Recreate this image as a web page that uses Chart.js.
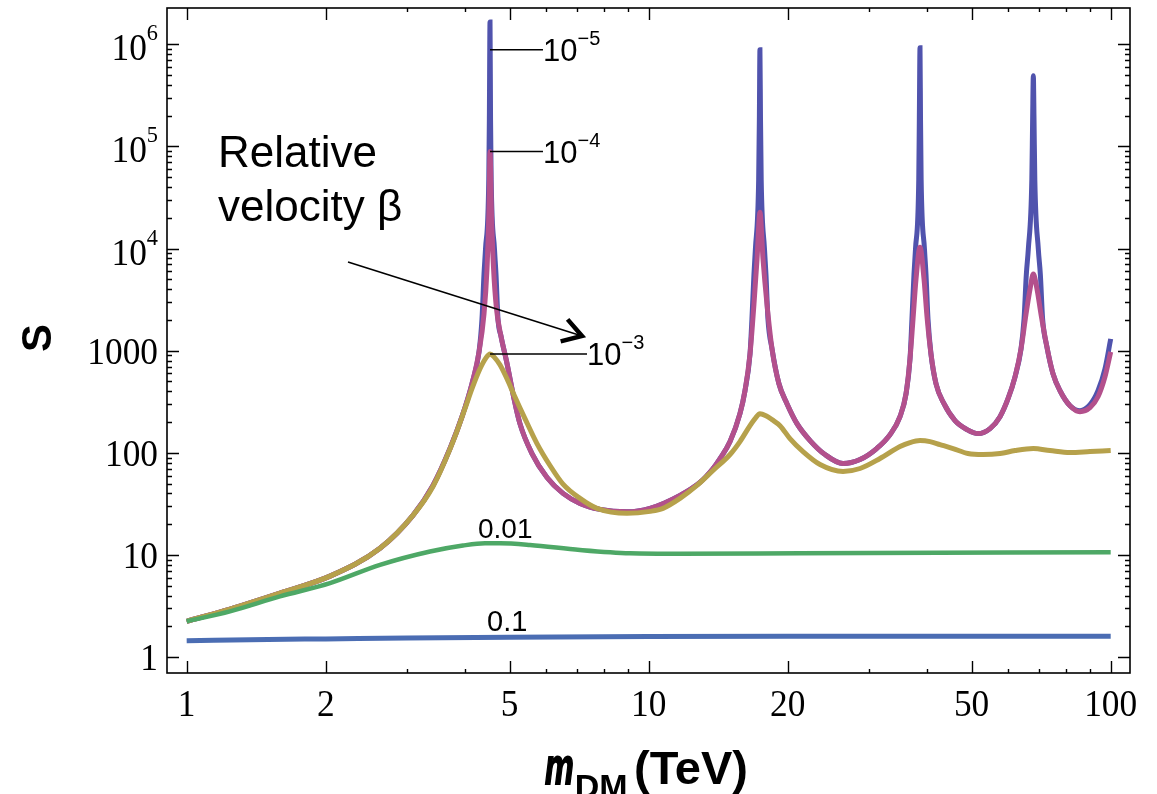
<!DOCTYPE html>
<html lang="en">
<head>
  <meta charset="UTF-8" />
  <title>Sommerfeld enhancement S vs m_DM</title>
  <script src="https://cdn.jsdelivr.net/npm/chart.js"></script>
  <style>
    html, body {
      margin: 0;
      padding: 0;
      background: #fff;
    }
    canvas {
      display: block;
    }
  </style>
</head>
<body>
  <canvas id="sommerfeld" width="1157" height="794"></canvas>

  <script>
// Values (m_DM in TeV, S dimensionless)

// beta = 0.1
const massB01 = [1, 1.5, 2, 3, 5, 10, 20, 50, 100];
const sB01    = [1.45, 1.49, 1.51, 1.54, 1.57, 1.59, 1.6, 1.6, 1.6];

// beta = 0.01
const massB001 = [1, 1.241, 1.592, 2.043, 2.621, 3.363, 3.963, 4.423, 4.765, 5.534, 7.101, 9.11, 11.69, 21.26, 100];
const sB001    = [2.245, 2.81, 3.937, 5.307, 8.005, 10.82, 12.38, 13.03, 13.03, 12.55, 11.21, 10.41, 10.3, 10.41, 10.65];

// beta = 1e-3
const massB1e3 = [1, 1.241, 1.592, 2.043, 2.621, 3.089, 3.413, 3.771, 4.003, 4.145,
                  4.314, 4.445, 4.535, 4.626, 4.765, 4.935, 5.11, 5.398, 5.731, 6.115,
                  6.525, 7.101, 7.729, 8.975, 10.07, 10.74, 11.69, 12.72, 13.78, 15.0,
                  15.76, 16.57, 16.99, 17.41, 17.94, 18.49, 19.24, 20.22, 21.58, 23.49,
                  26.34, 28.67, 31.67, 34.99, 36.78, 38.66, 40.64, 42.71, 45.58, 49.11,
                  52.92, 57.6, 62.08, 68.01, 73.89, 81.65, 90.2, 100];
const sB1e3    = [2.245, 2.96, 4.24, 6.21, 11.65, 24.45, 46.9, 128.9, 270.5, 424.0,
                  664.4, 850.7, 930.4, 869.9, 727.0, 530.8, 370.6, 216.1, 123.2, 75.2,
                  49.4, 35.83, 28.61, 25.56, 26.75, 28.61, 35.83, 47.97, 67.2, 96.25,
                  128.9, 184.6, 216.1, 241.7, 231.1, 211.3, 184.6, 137.9, 102.9, 76.88,
                  65.7, 70.27, 88.01, 115.2, 126.0, 131.8, 128.9, 120.5, 110.2, 98.44,
                  96.25, 98.44, 105.3, 110.2, 105.3, 100.7, 102.9, 105.3];

// beta = 1e-4
const massB1e4 = [1, 1.241, 1.592, 2.043, 2.621, 3.089, 3.413, 3.715, 3.944, 4.145, 4.293, 4.401, 4.467, 4.512, 4.535,
                  4.568, 4.614, 4.684, 4.789, 4.927, 5.085, 5.264, 5.59, 6.025, 6.525, 7.101, 7.845, 8.975, 10.07, 11.69,
                  12.91, 13.78, 14.27, 15.0, 15.76, 16.16, 16.57, 16.9, 17.16, 17.41, 17.68, 18.03, 18.49, 19.14, 19.92,
                  20.94, 22.35, 24.07, 26.34, 28.67, 31.15, 33.3, 34.99, 36.06, 36.78, 37.34, 37.9, 38.66, 39.44, 40.04,
                  40.83, 41.87, 43.57, 46.03, 48.87, 51.62, 54.81, 57.6, 59.95, 62.08, 63.96, 65.58, 66.9, 68.01, 69.26,
                  70.65, 72.7, 75.01, 77.68, 81.65, 85.82, 90.2, 93.86, 97.19, 100];
const sB1e4    = [2.245, 2.96, 4.24, 6.21, 11.65, 24.45, 47.97, 110.2, 226.0, 474.5, 973.4, 2286, 6281, 24180, 88990,
                  21610, 6570, 2557, 1394, 777.8, 378.9, 193.1, 98.44, 57.41, 40.08, 32.02, 27.98, 26.45, 28.61, 38.32,
                  51.31, 70.27, 88.01, 128.9, 241.7, 405.4, 930.4, 2861, 7865, 22600, 7865, 2861, 1041, 474.5, 302.7,
                  193.1, 131.8, 96.25, 78.63, 86.03, 110.2, 150.8, 226.0, 378.9, 831.8, 2043, 5018, 10300, 5018, 2136,
                  930.4, 474.5, 302.7, 206.6, 168.8, 154.3, 172.6, 226.0, 338.8, 555.3, 1041, 2286, 4009, 5615, 4009,
                  2286, 1114, 593.9, 405.4, 289.3, 252.8, 276.7, 354.3, 555.3, 973.4];

// beta = 1e-5
const massB1e5 = [1, 1.241, 1.592, 2.043, 2.621, 3.089, 3.413, 3.715, 3.944, 4.145,
                  4.293, 4.357, 4.401, 4.434, 4.507, 4.52, 4.535, 4.547, 4.561, 4.637,
                  4.672, 4.719, 4.789, 4.927, 5.085, 5.264, 5.59, 6.025, 6.525, 7.101,
                  7.845, 8.975, 10.07, 11.69, 12.91, 13.78, 14.27, 15.0, 15.76, 16.16,
                  16.57, 16.73, 16.9, 17.02, 17.3, 17.36, 17.41, 17.46, 17.52, 17.81,
                  17.94, 18.12, 18.49, 19.14, 19.92, 20.94, 22.35, 24.07, 26.34, 28.67,
                  31.15, 33.3, 34.99, 36.06, 36.78, 37.14, 37.52, 37.8, 38.42, 38.53,
                  38.66, 38.76, 38.88, 39.53, 39.83, 40.23, 40.83, 41.87, 43.57, 46.03,
                  48.87, 51.62, 54.81, 57.6, 59.95, 62.08, 63.96, 64.93, 65.68, 66.33,
                  67.5, 67.77, 68.01, 68.24, 68.51, 69.72, 70.42, 71.23, 72.7, 75.01,
                  77.68, 81.65, 85.82, 90.2, 93.86, 97.19, 100];
const sB1e5    = [2.245, 2.96, 4.24, 6.21, 11.65, 24.45, 47.97, 110.2, 226.0, 474.5,
                  973.4, 2043, 5615, 9844, 47450, 182600, 1.651e6, 182600, 47450, 9844,
                  5615, 2043, 1394, 777.8, 378.9, 193.1, 98.44, 57.41, 40.08, 32.02,
                  27.98, 26.45, 28.61, 38.32, 51.31, 70.27, 88.01, 128.9, 241.7, 405.4,
                  930.4, 2043, 5615, 9844, 47450, 182600, 879900, 182600, 47450, 9844,
                  5615, 2043, 1041, 474.5, 302.7, 193.1, 131.8, 96.25, 78.63, 86.03,
                  110.2, 150.8, 226.0, 378.9, 831.8, 2043, 5615, 9844, 47450, 182600,
                  920300, 182600, 47450, 9844, 5615, 2043, 930.4, 474.5, 302.7, 206.6,
                  168.8, 154.3, 172.6, 226.0, 338.8, 555.3, 1041, 2043, 5615, 9844,
                  47450, 182600, 490700, 182600, 47450, 9844, 5615, 2043, 1114, 593.9,
                  405.4, 289.3, 258.6, 296, 405.4, 664.4, 1304];

// Axis ticks
const xMajorTicks = [1, 2, 5, 10, 20, 50, 100];
const xTickLabels = ['1', '2', '5', '10', '20', '50', '100'];
const xMinorTicks = [3, 4, 6, 7, 8, 9, 30, 40, 60, 70, 80, 90];
const yMajorTicks = [1, 10, 100, 1000, 1e4, 1e5, 1e6];
const yTickLabels = ['1', '10', '100', '1000', '10^4', '10^5', '10^6'];

// Curve labels: [text, mass at peak, S at leader, mass where the label starts]
const curveLabels = [
  ['10^\u22125', 4.535, 8.8e5, 5.905],
  ['10^\u22124', 4.535, 8.9e4, 5.905],
  ['10^\u22123', 4.535, 930, 7.354]
];

function toPoints(xs, ys) {
  return xs.map((m, i) => ({ x: m, y: ys[i] }));
}

// draw text with a horizontal squeeze, like the original figure
function putText(ctx, txt, x, y, font, align, sx, thicken) {
  ctx.save();
  ctx.font = font;
  ctx.textAlign = 'left';
  ctx.textBaseline = 'alphabetic';
  const w = ctx.measureText(txt).width * sx;
  const left = align === 'center' ? x - w / 2 : align === 'right' ? x - w : x;
  ctx.translate(left, y);
  ctx.scale(sx, 1);
  ctx.fillText(txt, 0, 0);
  if (thicken) {
    ctx.lineWidth = thicken;
    ctx.strokeText(txt, 0, 0);
  }
  ctx.restore();
  return w;
}

// "a^b" -> base with superscript
function putPower(ctx, label, x, y, baseFont, supFont, rise, align, sx) {
  const parts = label.split('^');
  if (parts.length === 1) return putText(ctx, label, x, y, baseFont, align, sx);
  ctx.save();
  ctx.font = baseFont;
  const wb = ctx.measureText(parts[0]).width * sx;
  ctx.font = supFont;
  const ws = ctx.measureText(parts[1]).width * sx;
  ctx.restore();
  const total = wb + ws;
  const left = align === 'right' ? x - total : align === 'center' ? x - total / 2 : x;
  putText(ctx, parts[0], left, y, baseFont, 'left', sx);
  putText(ctx, parts[1], left + wb, y - rise, supFont, 'left', sx);
  return total;
}

const framePlugin = {
  id: 'mathematicaFrame',
  afterDraw(chart) {
    const { ctx, chartArea: a } = chart;
    const xs = chart.scales.x;
    const ys = chart.scales.y;
    ctx.save();
    ctx.strokeStyle = '#000';
    ctx.fillStyle = '#000';

    // frame
    ctx.lineWidth = 1.6;
    ctx.strokeRect(a.left, a.top, a.right - a.left, a.bottom - a.top);

    // ticks (inward, mirrored)
    ctx.lineWidth = 1.4;
    ctx.beginPath();
    const xTick = (v, len) => {
      const px = Math.round(xs.getPixelForValue(v)) + 0.5;
      ctx.moveTo(px, a.bottom); ctx.lineTo(px, a.bottom - len);
      ctx.moveTo(px, a.top); ctx.lineTo(px, a.top + len);
    };
    const yTick = (v, len) => {
      const py = Math.round(ys.getPixelForValue(v)) + 0.5;
      ctx.moveTo(a.left, py); ctx.lineTo(a.left + len, py);
      ctx.moveTo(a.right, py); ctx.lineTo(a.right - len, py);
    };
    xMajorTicks.forEach(v => xTick(v, 12));
    xMinorTicks.forEach(v => xTick(v, 4));
    yMajorTicks.forEach(v => yTick(v, 12));
    for (let k = 0; k < 6; k++) {
      for (let d = 2; d <= 9; d++) yTick(d * Math.pow(10, k), 5);
    }
    ctx.stroke();

    // tick labels
    const serif = '"Liberation Serif", "DejaVu Serif", serif';
    xMajorTicks.forEach((v, i) => {
      putText(ctx, xTickLabels[i], xs.getPixelForValue(v), 716, '38px ' + serif, 'center', 0.93);
    });
    yMajorTicks.forEach((v, i) => {
      const py = ys.getPixelForValue(v);
      const lab = yTickLabels[i];
      const base = lab.includes('^') ? py + 16 : py + 13;
      putPower(ctx, lab, 158, base, '38px ' + serif, '24px ' + serif, 20, 'right', 0.93);
    });

    // axis titles
    const sans = '"Liberation Sans", Arial, sans-serif';
    ctx.save();
    ctx.translate(39, 338);
    ctx.rotate(-Math.PI / 2);
    ctx.font = 'bold 42px ' + sans;
    ctx.textAlign = 'center';
    ctx.textBaseline = 'middle';
    ctx.fillText('S', 0, 0);
    ctx.restore();

    const wm = putText(ctx, 'm', 545, 784, 'italic bold 52px ' + sans, 'left', 0.62, 2);
    putText(ctx, 'DM', 546 + wm, 798, 'bold 34px ' + sans, 'left', 1);
    putText(ctx, '(TeV)', 634, 784, 'bold 47px ' + sans, 'left', 1);

    // labels on the curves with leader lines
    ctx.lineWidth = 1.5;
    curveLabels.forEach(([txt, mPeak, sVal, mText]) => {
      const x0 = xs.getPixelForValue(mPeak);
      const x1 = xs.getPixelForValue(mText);
      const py = ys.getPixelForValue(sVal);
      ctx.beginPath();
      ctx.moveTo(x0, py);
      ctx.lineTo(x1, py);
      ctx.stroke();
      putPower(ctx, txt, x1, py + 11, '31px ' + sans, '20px ' + sans, 16, 'left', 1);
    });
    putText(ctx, '0.01', 478, 538, '28px ' + sans, 'left', 1);
    putText(ctx, '0.1', 487, 631, '29px ' + sans, 'left', 1);

    // "Relative velocity beta" with arrow
    putText(ctx, 'Relative', 218, 167, '44px ' + sans, 'left', 1);
    putText(ctx, 'velocity \u03B2', 218, 221, '44px ' + sans, 'left', 1);
    const tip = [582, 336];
    const tail = [348, 262];
    ctx.lineWidth = 1.6;
    ctx.beginPath();
    ctx.moveTo(tail[0], tail[1]);
    ctx.lineTo(tip[0], tip[1]);
    ctx.stroke();
    const ang = Math.atan2(tip[1] - tail[1], tip[0] - tail[0]);
    ctx.lineWidth = 4.5;
    ctx.lineJoin = 'miter';
    ctx.beginPath();
    ctx.moveTo(tip[0] - 22 * Math.cos(ang - 0.55), tip[1] - 22 * Math.sin(ang - 0.55));
    ctx.lineTo(tip[0], tip[1]);
    ctx.lineTo(tip[0] - 22 * Math.cos(ang + 0.55), tip[1] - 22 * Math.sin(ang + 0.55));
    ctx.stroke();

    ctx.restore();
  }
};

new Chart(document.getElementById('sommerfeld'), {
  type: 'line',
  data: {
    datasets: [
      { label: '\u03B2 = 0.1',  data: toPoints(massB01, sB01),   borderColor: '#4b6db3', order: 1 },
      { label: '\u03B2 = 0.01', data: toPoints(massB001, sB001), borderColor: '#4ea866', order: 2, borderWidth: 4.5 },
      { label: '\u03B2 = 1e-3', data: toPoints(massB1e3, sB1e3), borderColor: '#b6a14b', order: 3 },
      { label: '\u03B2 = 1e-4', data: toPoints(massB1e4, sB1e4), borderColor: '#b3508c', order: 4 },
      { label: '\u03B2 = 1e-5', data: toPoints(massB1e5, sB1e5), borderColor: '#5053ad', order: 5 }
    ]
  },
  options: {
    responsive: false,
    animation: false,
    events: [],
    layout: { padding: { left: 167, top: 8, right: 27, bottom: 121 } },
    elements: {
      point: { radius: 0 },
      line: { borderWidth: 5, cubicInterpolationMode: 'monotone', fill: false }
    },
    plugins: {
      legend: { display: false },
      tooltip: { enabled: false }
    },
    scales: {
      x: { type: 'logarithmic', display: false, min: 0.9066, max: 110.1 },
      y: { type: 'logarithmic', display: false, min: 0.735, max: 2.26e6 }
    }
  },
  plugins: [framePlugin]
});
  </script>
</body>
</html>
